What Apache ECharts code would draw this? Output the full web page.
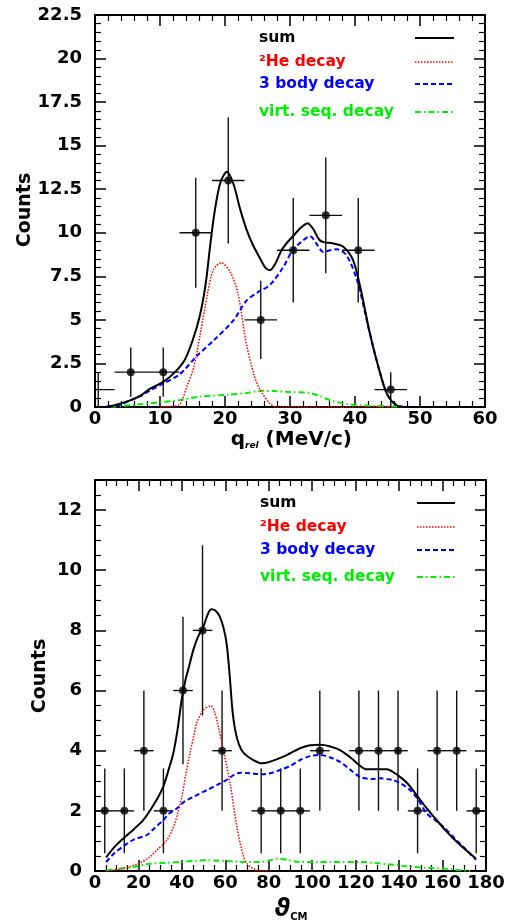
<!DOCTYPE html>
<html>
<head>
<meta charset="utf-8">
<script src="https://cdn.jsdelivr.net/npm/echarts@6/dist/echarts.min.js"></script>
<style>
  html, body { margin: 0; padding: 0; background: #fff; }
  #chart { width: 514px; height: 924px; }
</style>
</head>
<body>
<div id="chart"></div>
<script>
// ---- top panel: q_rel ----
var qX = [0.5, 5.5, 10.5, 15.5, 20.5, 25.5, 30.5, 35.5, 40.5, 45.5]
var qY = [1, 2, 2, 10, 13, 5, 9, 11, 9, 1]
var qYErr = [1, 1.41, 1.41, 3.16, 3.61, 2.24, 3, 3.32, 3, 1]
var qXErr = 2.5

var qSum = [[1.5, 0], [3, 0.1], [5.4, 0.38], [7, 0.65], [8.5, 1.05], [10.5, 1.44], [12.3, 2.0], [13.8, 2.7],
  [15, 3.8], [16.1, 5.2], [17, 7.0], [17.7, 9.2], [18.4, 11.2], [19.3, 12.9], [20.3, 13.5], [21.3, 12.8],
  [22.3, 11.4], [23.3, 10.2], [24.3, 9.3], [25.3, 8.6], [26.2, 8.0], [26.9, 7.85], [27.7, 8.2], [28.7, 9.0],
  [29.7, 9.5], [30.7, 9.9], [31.7, 10.3], [32.7, 10.55], [33.6, 10.2], [34.5, 9.6], [35.3, 9.45],
  [36.5, 9.4], [38.2, 9.2], [39.7, 8.43], [40.8, 6.9], [42.3, 4.2], [43.6, 2.3], [44.9, 0.77], [46.4, 0.1],
  [48, 0]]
var qHe = [[10, 0], [12.8, 0.1], [14.1, 1.15], [15.2, 2.3], [16.2, 4.2], [17.3, 6.5], [18.2, 7.86],
  [19.4, 8.28], [20.8, 7.75], [22, 6.5], [23.3, 3.6], [24.5, 1.8], [25.4, 1.0], [26.9, 0.2], [28, 0], [46, 0]]
var q3Body = [[2, 0], [3.5, 0.08], [5.4, 0.38], [7, 0.62], [8.5, 0.96], [10.5, 1.34], [13.1, 1.9],
  [15.6, 2.9], [18.2, 3.8], [21.3, 4.97], [23.3, 6.1], [25.1, 6.6], [26.9, 7.0], [29, 8.05], [30.4, 9.0],
  [31.8, 9.5], [33.1, 9.8], [34.2, 9.3], [35.1, 8.9], [36.2, 9.0], [37.2, 9.05], [38.7, 8.7], [40.3, 7.3],
  [41.5, 5.5], [42.3, 4.2], [43.6, 2.3], [44.9, 0.77], [46.4, 0.1], [48, 0]]
var qVirt = [[2.4, 0], [6, 0.12], [10.5, 0.29], [13.1, 0.4], [16.2, 0.6], [20.3, 0.7], [23.3, 0.8],
  [25.4, 0.93], [28, 0.9], [30, 0.86], [33.1, 0.8], [34.8, 0.6], [36.2, 0.38], [39.2, 0.15], [42, 0.07],
  [46, 0.03], [48, 0]]

// ---- bottom panel: theta_CM ----
var thX = [4.5, 13.5, 22.5, 31.5, 40.5, 49.5, 58.5, 76.5, 85.5, 94.5, 103.5, 121.5, 130.5, 139.5, 148.5, 157.5, 166.5, 175.5]
var thY = [2, 2, 4, 2, 6, 8, 4, 2, 2, 2, 4, 4, 4, 4, 2, 4, 4, 2]
var thYErr = [1.41, 1.41, 2, 1.41, 2.45, 2.83, 2, 1.41, 1.41, 1.41, 2, 2, 2, 2, 1.41, 2, 2, 1.41]
var thXErr = 4.5

var thSum = [[5.1, 0.45], [9, 0.8], [13.8, 1.13], [18, 1.4], [22.2, 1.69], [27, 2.2], [31.4, 2.8], [34, 3.4],
  [36, 3.9], [38, 4.7], [39.9, 5.7], [41.5, 6.3], [43.3, 6.8], [45.3, 7.36], [47.5, 7.8], [49.9, 8.13],
  [52, 8.55], [53.5, 8.7], [55.5, 8.65], [57.5, 8.45], [59.3, 8.05], [60.7, 7.5], [62, 6.5], [63.2, 5.4],
  [64.5, 4.7], [66.3, 4.2], [68.5, 3.92], [72.9, 3.69], [76.7, 3.58], [80, 3.62], [86.7, 3.8], [94.4, 4.08],
  [99, 4.18], [103.6, 4.2], [108, 4.15], [112.8, 4.02], [118, 3.75], [122, 3.5], [125, 3.38], [130, 3.38],
  [134.3, 3.38], [137, 3.3], [140.4, 3.13], [144, 2.9], [148.1, 2.52], [152, 2.15], [157.3, 1.69],
  [162, 1.3], [166.5, 0.97], [171, 0.68], [175.4, 0.41]]
var thHe = [[5, 0], [6.9, 0.02], [13.1, 0.08], [20.7, 0.27], [25, 0.45], [28.4, 0.69], [33, 1.02],
  [36.2, 1.47], [38, 1.9], [40, 2.47], [42, 3.3], [43.7, 3.91], [45.5, 4.5], [46.8, 4.91], [49.9, 5.36],
  [53.4, 5.49], [55, 5.3], [56.8, 4.8], [59.1, 4.02], [62.2, 2.91], [65.3, 1.47], [68.4, 0.47],
  [70.5, 0.2], [72.9, 0.08], [76, 0], [80, 0]]
var th3Body = [[5.1, 0.3], [9, 0.6], [13.8, 0.86], [18, 1.05], [23.8, 1.19], [27, 1.4], [31.4, 1.69],
  [34, 1.9], [37.6, 2.08], [41, 2.3], [45.4, 2.47], [51.5, 2.69], [57.6, 2.91], [61, 3.05], [63.8, 3.19],
  [66.8, 3.27], [71.4, 3.25], [75.8, 3.22], [80, 3.24], [85.2, 3.36], [90, 3.5], [94.4, 3.69], [99, 3.82],
  [103.6, 3.86], [108, 3.78], [112.8, 3.63], [117, 3.4], [122, 3.13], [127, 3.06], [131.2, 3.08],
  [137.3, 3.02], [141, 2.9], [145, 2.69], [148.5, 2.4], [152.7, 1.91], [156.5, 1.7], [160.4, 1.47],
  [166.5, 1.02], [171, 0.7], [175.4, 0.37]]
var thVirt = [[5, 0.02], [10, 0.07], [17.6, 0.13], [25.3, 0.24], [32, 0.27], [39, 0.3], [45, 0.33],
  [51.5, 0.36], [57.6, 0.34], [63, 0.32], [68.4, 0.3], [75.8, 0.3], [80, 0.35], [85.2, 0.41], [89, 0.36],
  [94.4, 0.3], [102, 0.3], [109.7, 0.3], [122, 0.3], [130, 0.26], [135.8, 0.22], [142, 0.17],
  [148.1, 0.13], [154, 0.1], [160.4, 0.08], [166, 0.04], [172.6, 0]]

var FONT = 'DejaVu Sans'
var styles = {
  sum: { color: '#000000', width: 2, type: 'solid' },
  he: { color: '#ff0000', width: 1.5, type: [1.5, 1.5] },
  body: { color: '#0000ff', width: 2, type: [5, 3] },
  virt: { color: '#00ee00', width: 2, type: [6, 3, 1.5, 3] }
}

var chart = echarts.init(document.getElementById('chart'))

function errRender(params, api) {
  var x = api.value(0), y = api.value(1), ex = api.value(2), ey = api.value(3)
  var l = api.coord([x - ex, y]), r = api.coord([x + ex, y])
  var t = api.coord([x, y + ey]), b = api.coord([x, y - ey])
  var st = { stroke: '#111', lineWidth: 1.4 }
  return {
    type: 'group',
    children: [
      { type: 'line', shape: { x1: l[0], y1: l[1], x2: r[0], y2: r[1] }, style: st },
      { type: 'line', shape: { x1: t[0], y1: t[1], x2: b[0], y2: b[1] }, style: st }
    ]
  }
}

function xAxisCfg(grid, max, interval, split, pos) {
  return {
    type: 'value', gridIndex: grid, min: 0, max: max, interval: interval, position: pos,
    axisLine: { show: true, onZero: false, lineStyle: { color: '#000', width: 2 } },
    axisTick: { show: true, inside: true, length: 11, lineStyle: { color: '#000', width: 1.5 } },
    minorTick: { show: true, splitNumber: split, length: 6, lineStyle: { color: '#000', width: 1.2 } },
    axisLabel: { show: pos === 'bottom', margin: 3, color: '#000', fontFamily: FONT, fontWeight: 'bold', fontSize: 18,
      showMaxLabel: true, showMinLabel: true },
    splitLine: { show: false }
  }
}

function yAxisCfg(grid, max, interval, split, pos, fmt) {
  return {
    type: 'value', gridIndex: grid, min: 0, max: max, interval: interval, position: pos,
    axisLine: { show: true, onZero: false, lineStyle: { color: '#000', width: 2 } },
    axisTick: { show: true, inside: true, length: 11, lineStyle: { color: '#000', width: 1.5 } },
    minorTick: { show: true, splitNumber: split, length: 6, lineStyle: { color: '#000', width: 1.2 } },
    axisLabel: { show: pos === 'left', margin: 13, color: '#000', fontFamily: FONT, fontWeight: 'bold', fontSize: 18,
      formatter: fmt },
    splitLine: { show: false }
  }
}

function curve(data, st, xi, yi) {
  return {
    type: 'line', xAxisIndex: xi, yAxisIndex: yi, data: data, smooth: 0.3, showSymbol: false,
    silent: true, z: 3,
    lineStyle: { color: st.color, width: st.width, type: st.type }
  }
}

function pts(xs, ys) {
  return xs.map(function (x, i) { return [x, ys[i]] })
}
function errs(xs, ys, ex, eys) {
  return xs.map(function (x, i) { return [x, ys[i], ex, eys[i]] })
}

// legend drawn by hand (ROOT style: label left, line sample right)
function legend(x0, lx1, lx2, ys) {
  var items = [
    { text: 'sum', st: styles.sum },
    { text: '²He decay', st: styles.he },
    { text: '3 body decay', st: styles.body },
    { text: 'virt. seq. decay', st: styles.virt }
  ]
  var out = []
  items.forEach(function (it, i) {
    out.push({
      type: 'text', x: x0, y: ys[i],
      style: { text: it.text, fill: it.st.color, font: 'bold 15.5px "' + FONT + '"', textVerticalAlign: 'middle' }
    })
    out.push({
      type: 'line', shape: { x1: lx1, y1: ys[i], x2: lx2, y2: ys[i] },
      style: { stroke: it.st.color, lineWidth: it.st.width, lineDash: it.st.type === 'solid' ? null : it.st.type }
    })
  })
  return out
}

var titleRich = {
  m: { fontFamily: FONT, fontWeight: 'bold', fontSize: 20, color: '#000', lineHeight: 24, verticalAlign: 'bottom' },
  s: { fontFamily: FONT, fontWeight: 'bold', fontStyle: 'italic', fontSize: 9, color: '#000', lineHeight: 9, verticalAlign: 'bottom' },
  th: { fontFamily: FONT, fontWeight: 'bold', fontStyle: 'italic', fontSize: 24, color: '#000', lineHeight: 26, verticalAlign: 'bottom' },
  cm: { fontFamily: FONT, fontWeight: 'bold', fontSize: 10, color: '#000', lineHeight: 10, verticalAlign: 'bottom' }
}

var option = {
  animation: false,
  backgroundColor: '#fff',
  grid: [
    { left: 95, top: 15, width: 390, height: 392 },
    { left: 95, top: 480, width: 391, height: 391 }
  ],
  xAxis: [
    xAxisCfg(0, 60, 10, 5, 'bottom'),
    xAxisCfg(0, 60, 10, 5, 'top'),
    xAxisCfg(1, 180, 20, 4, 'bottom'),
    xAxisCfg(1, 180, 20, 4, 'top')
  ],
  yAxis: [
    yAxisCfg(0, 22.5, 2.5, 5, 'left'),
    yAxisCfg(0, 22.5, 2.5, 5, 'right'),
    yAxisCfg(1, 13, 2, 4, 'left', function (v) { return v % 2 === 0 ? String(v) : '' }),
    yAxisCfg(1, 13, 2, 4, 'right')
  ],
  series: [
    {
      type: 'custom', xAxisIndex: 0, yAxisIndex: 0, renderItem: errRender, clip: true, z: 2,
      encode: { x: 0, y: 1 }, data: errs(qX, qY, qXErr, qYErr)
    },
    {
      type: 'scatter', xAxisIndex: 0, yAxisIndex: 0, z: 4, symbol: 'circle',
      symbolSize: function (v, p) { return p.dataIndex === 0 ? 0 : 8 },
      itemStyle: { color: '#000' }, data: pts(qX, qY)
    },
    curve(qVirt, styles.virt, 0, 0),
    curve(qHe, styles.he, 0, 0),
    curve(q3Body, styles.body, 0, 0),
    curve(qSum, styles.sum, 0, 0),
    {
      type: 'custom', xAxisIndex: 2, yAxisIndex: 2, renderItem: errRender, clip: true, z: 2,
      encode: { x: 0, y: 1 }, data: errs(thX, thY, thXErr, thYErr)
    },
    {
      type: 'scatter', xAxisIndex: 2, yAxisIndex: 2, z: 4, symbol: 'circle', symbolSize: 8,
      itemStyle: { color: '#000' }, data: pts(thX, thY)
    },
    curve(thVirt, styles.virt, 2, 2),
    curve(thHe, styles.he, 2, 2),
    curve(th3Body, styles.body, 2, 2),
    curve(thSum, styles.sum, 2, 2)
  ],
  graphic: [].concat(
    legend(259, 415, 454, [38, 62, 84, 112]),
    legend(260, 417, 455, [503, 527, 550, 577]),
    [
      {
        type: 'text', x: 25, y: 210, rotation: Math.PI / 2,
        style: { text: 'Counts', font: 'bold 19px "' + FONT + '"', fill: '#000', textAlign: 'center', textVerticalAlign: 'middle' }
      },
      {
        type: 'text', x: 40, y: 676, rotation: Math.PI / 2,
        style: { text: 'Counts', font: 'bold 19px "' + FONT + '"', fill: '#000', textAlign: 'center', textVerticalAlign: 'middle' }
      },
      {
        type: 'text', x: 352, y: 450,
        style: { text: '{m|q}{s|rel}{m| (MeV/c)}', rich: titleRich, textAlign: 'right', textVerticalAlign: 'bottom' }
      },
      {
        type: 'text', x: 291, y: 922,
        style: { text: '{th|ϑ}{cm|CM}', rich: titleRich, textAlign: 'center', textVerticalAlign: 'bottom' }
      }
    ]
  )
}

chart.setOption(option)
</script>
</body>
</html>
